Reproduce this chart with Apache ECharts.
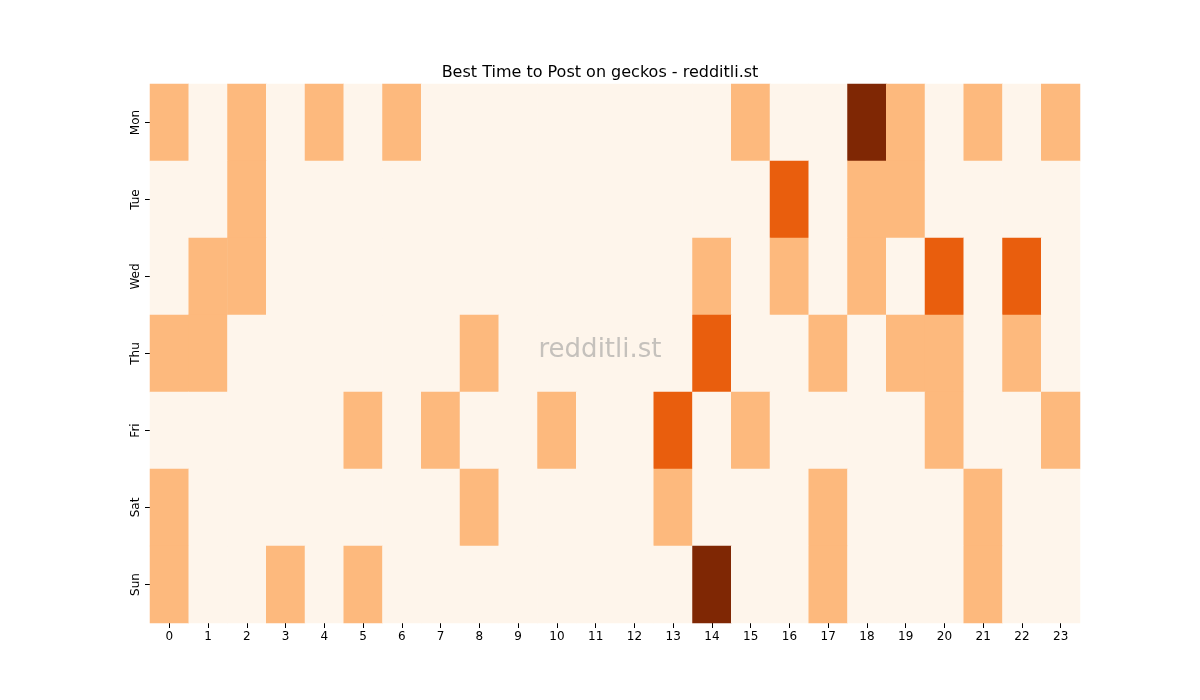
<!DOCTYPE html>
<html><head><meta charset="utf-8">
<script src="https://cdn.jsdelivr.net/npm/echarts@6/dist/echarts.min.js"></script>
<style>html,body{margin:0;padding:0;background:#fff}#c{width:1200px;height:700px}</style>
</head><body><div id="c"></div>
<script>
const hours = Array.from({length:24},(_,i)=>String(i));
const days = ['Mon','Tue','Wed','Thu','Fri','Sat','Sun'];
const mon = [1,0,1,0,1,0,1,0,0,0,0,0,0,0,0,1,0,0,3,1,0,1,0,1];
const tue = [0,0,1,0,0,0,0,0,0,0,0,0,0,0,0,0,2,0,1,1,0,0,0,0];
const wed = [0,1,1,0,0,0,0,0,0,0,0,0,0,0,1,0,1,0,1,0,2,0,2,0];
const thu = [1,1,0,0,0,0,0,0,1,0,0,0,0,0,2,0,0,1,0,1,1,0,1,0];
const fri = [0,0,0,0,0,1,0,1,0,0,1,0,0,2,0,1,0,0,0,0,1,0,0,1];
const sat = [1,0,0,0,0,0,0,0,1,0,0,0,0,1,0,0,0,1,0,0,0,1,0,0];
const sun = [1,0,0,1,0,1,0,0,0,0,0,0,0,0,3,0,0,1,0,0,0,1,0,0];
const rows = [mon,tue,wed,thu,fri,sat,sun];
const data = [];
rows.forEach((r,y)=>r.forEach((v,x)=>data.push([x,y,v])));
const chart = echarts.init(document.getElementById('c'));
chart.setOption({
  animation:false,
  title:{text:'Best Time to Post on geckos - redditli.st',left:'center',top:60,textStyle:{fontFamily:'DejaVu Sans',fontSize:16,fontWeight:'normal',color:'#000'}},
  graphic:[{type:'text',left:'center',top:337,z:100,style:{text:'redditli.st',font:'26px DejaVu Sans',fill:'rgba(150,150,150,0.55)'}}],
  grid:{left:150,right:120,top:84,bottom:77},
  xAxis:{type:'category',data:hours,axisLine:{show:false},axisTick:{show:true,alignWithLabel:true,lineStyle:{color:'#000'}},axisLabel:{color:'#000',fontFamily:'DejaVu Sans',fontSize:12},splitArea:{show:false}},
  yAxis:{type:'category',data:days,inverse:true,axisLine:{show:false},axisTick:{show:true,alignWithLabel:true,lineStyle:{color:'#000'}},axisLabel:{color:'#000',rotate:90,fontFamily:'DejaVu Sans',fontSize:12}},
  visualMap:{show:false,type:'piecewise',dimension:2,pieces:[{value:0,color:'#fef5eb'},{value:1,color:'#fdb97d'},{value:2,color:'#e95e0d'},{value:3,color:'#7f2704'}]},
  series:[{type:'heatmap',data:data,itemStyle:{borderWidth:0},emphasis:{disabled:true}}]
});
</script></body></html>
